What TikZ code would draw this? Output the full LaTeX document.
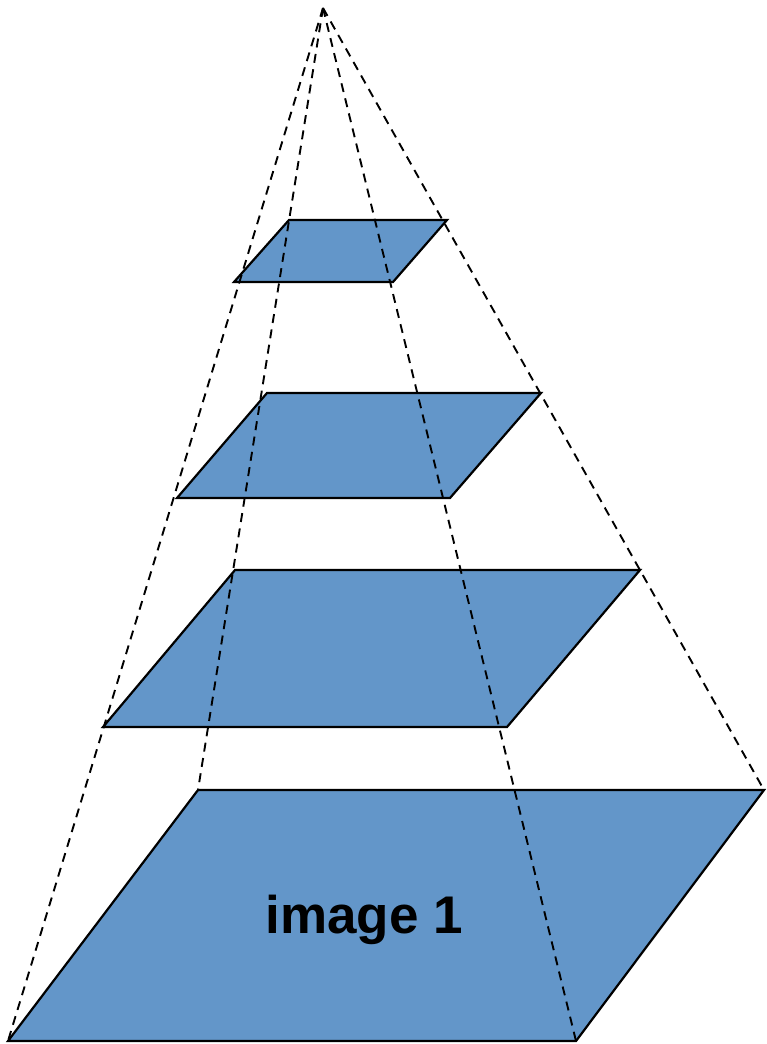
\documentclass[tikz,border=0pt]{standalone}
\usepackage{fontspec}
\setmainfont{Liberation Sans}
\definecolor{planeblue}{RGB}{99,150,201}
\begin{document}
\begin{tikzpicture}[x=1pt,y=-1pt,
  plane/.style={draw=black,line width=2.2pt,fill=planeblue,line join=miter},
  ray/.style={draw=black,line width=1.9pt,dash pattern=on 9pt off 6.5pt}]
\useasboundingbox (0,0) rectangle (766,1044);
% apex
\coordinate (apex) at (323,8);
% plane 1
\coordinate (p1a) at (289,220); \coordinate (p1b) at (447,220);
\coordinate (p1c) at (393,282); \coordinate (p1d) at (234,282);
% plane 2
\coordinate (p2a) at (267,393); \coordinate (p2b) at (541,393);
\coordinate (p2c) at (450,498); \coordinate (p2d) at (177,498);
% plane 3
\coordinate (p3a) at (235,570); \coordinate (p3b) at (640,570);
\coordinate (p3c) at (507,727); \coordinate (p3d) at (103,727);
% plane 4
\coordinate (p4a) at (198,790); \coordinate (p4b) at (764,790);
\coordinate (p4c) at (576,1041); \coordinate (p4d) at (8,1041);
\path[plane] (p1a) -- (p1b) -- (p1c) -- (p1d) -- cycle;
\path[plane] (p2a) -- (p2b) -- (p2c) -- (p2d) -- cycle;
\path[plane] (p3a) -- (p3b) -- (p3c) -- (p3d) -- cycle;
\path[plane] (p4a) -- (p4b) -- (p4c) -- (p4d) -- cycle;
\node[font=\bfseries\fontsize{53}{60}\selectfont] (lbl) at (364,920) {image 1};
\draw[ray] (apex) -- (p4a);
\draw[ray] (apex) -- (p4b);
\draw[ray] (apex) -- (p4c);
\draw[ray] (apex) -- (p4d);
\end{tikzpicture}
\end{document}
